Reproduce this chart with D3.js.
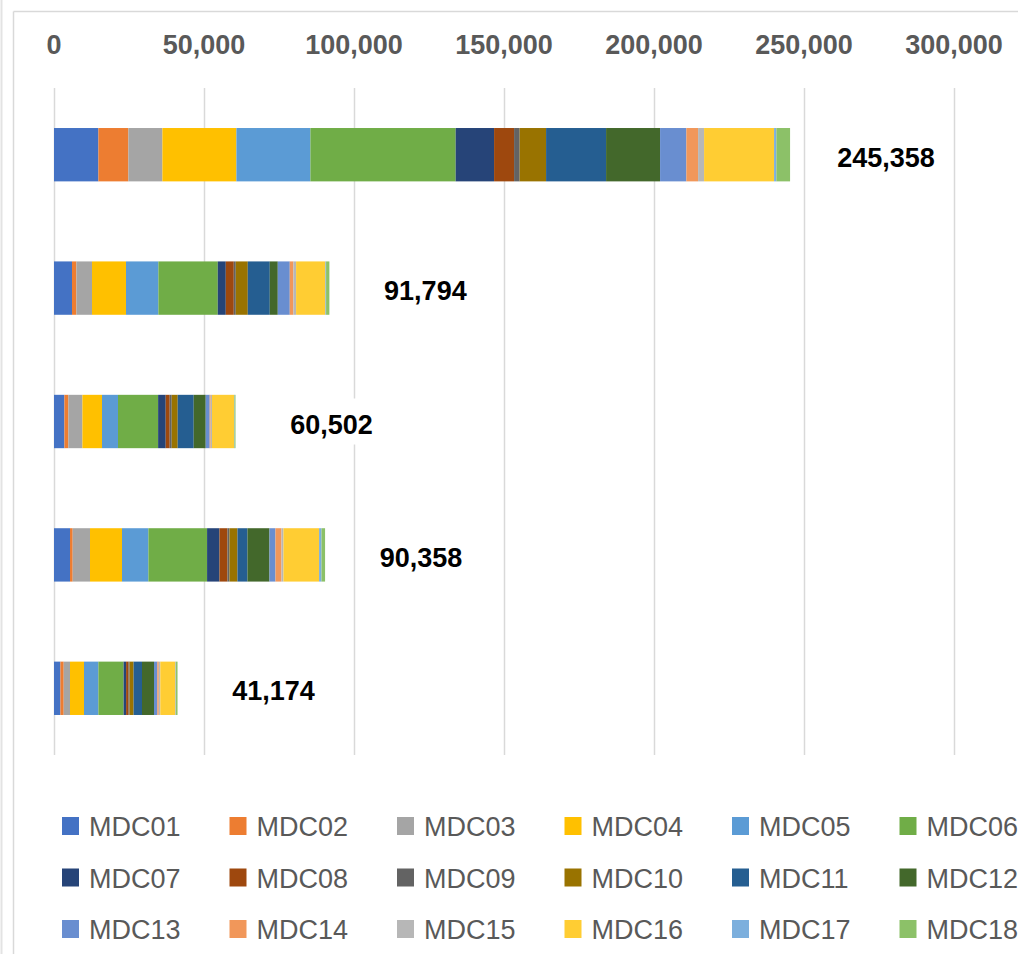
<!DOCTYPE html>
<html>
<head>
<meta charset="utf-8">
<script src="https://cdn.jsdelivr.net/npm/d3@7"></script>
<style>
  body { margin: 0; background: #fff; }
  svg { display: block; font-family: "Liberation Sans", Arial, sans-serif; }
</style>
</head>
<body>
<svg id="chart" width="1018" height="954"></svg>
<script>
// categories (not labelled on the axis in the original)
const categories = ["G1", "G2", "G3", "G4", "G5"];
const keys = ["MDC01","MDC02","MDC03","MDC04","MDC05","MDC06","MDC07","MDC08","MDC09",
              "MDC10","MDC11","MDC12","MDC13","MDC14","MDC15","MDC16","MDC17","MDC18"];
const colors = ["#4472C4","#ED7D31","#A5A5A5","#FFC000","#5B9BD5","#70AD47","#264478","#9E480E","#636363",
                "#997300","#255E91","#43682B","#698ED0","#F1975A","#B7B7B7","#FFCD33","#7CAFDD","#8CC168"];

// one array per category, values in key order
const g1 = [14800, 10000, 11333, 24667, 24667, 48423, 12800, 6667, 1867, 8800, 20000, 18000, 8767, 3900, 2000, 23333, 767, 4567];
const g2 = [6000, 1467, 5200, 11333, 10800, 19793, 2667, 2667, 667, 4000, 7333, 2667, 4000, 1200, 900, 9767, 233, 1100];
const g3 = [3467, 1333, 4667, 6533, 5333, 13371, 2533, 1333, 667, 2000, 5333, 4000, 1333, 333, 433, 7333, 167, 333];
const g4 = [5333, 900, 5767, 10667, 8800, 19557, 4133, 2667, 667, 2667, 3333, 7333, 2000, 2000, 667, 11867, 800, 1200];
const g5 = [2133, 1100, 2100, 4667, 4800, 8400, 833, 833, 333, 1333, 2800, 4000, 1100, 500, 500, 5075, 167, 500];
const totals = [245358, 91794, 60502, 90358, 41174];
const tickValues = [0, 50000, 100000, 150000, 200000, 250000, 300000];

const rows = [g1, g2, g3, g4, g5].map((vals, i) => {
  const o = { cat: categories[i], total: totals[i] };
  keys.forEach((k, j) => o[k] = vals[j]);
  return o;
});

const svg = d3.select("#chart");
const W = 1018, H = 954;

// frame lines
svg.append("line").attr("x1", 1.5).attr("x2", 1.5).attr("y1", 0).attr("y2", H)
  .attr("stroke", "#e3e3e3").attr("stroke-width", 2);
svg.append("line").attr("x1", 13.5).attr("x2", 13.5).attr("y1", 11.5).attr("y2", H)
  .attr("stroke", "#d9d9d9").attr("stroke-width", 1.5);
svg.append("line").attr("x1", 13.5).attr("x2", W).attr("y1", 11.5).attr("y2", 11.5)
  .attr("stroke", "#d9d9d9").attr("stroke-width", 1.5);

const x = d3.scaleLinear().domain([0, 300000]).range([54, 954]);
const y = d3.scaleBand().domain(categories).range([88, 755]).paddingInner(0.6).paddingOuter(0.3);

// gridlines
svg.append("g").selectAll("line").data(tickValues).join("line")
  .attr("x1", d => Math.round(x(d)) + 0.5).attr("x2", d => Math.round(x(d)) + 0.5)
  .attr("y1", 88).attr("y2", 755)
  .attr("stroke", "#d9d9d9").attr("stroke-width", 1.5);

// tick labels on top
const fmt = d3.format(",");
svg.append("g").selectAll("text").data(tickValues).join("text")
  .attr("x", d => x(d)).attr("y", 45)
  .attr("text-anchor", "middle").attr("dominant-baseline", "central")
  .attr("font-size", 27).attr("font-weight", "bold").attr("fill", "#595959")
  .text(d => fmt(d));

// stacked bars
const stacked = d3.stack().keys(keys)(rows);
const color = d3.scaleOrdinal().domain(keys).range(colors);
svg.append("g").selectAll("g").data(stacked).join("g")
  .attr("fill", d => color(d.key))
  .selectAll("rect").data(d => d).join("rect")
  .attr("x", d => x(d[0])).attr("width", d => Math.max(0, x(d[1]) - x(d[0])))
  .attr("y", d => y(d.data.cat)).attr("height", y.bandwidth());

// total labels with white box
const lab = svg.append("g").selectAll("g").data(rows).join("g")
  .attr("transform", d => `translate(${x(d.total) + 96},${y(d.cat) + y.bandwidth() / 2})`);
lab.append("rect").attr("x", -60).attr("y", -23).attr("width", 120).attr("height", 46).attr("fill", "#fff");
lab.append("text")
  .attr("text-anchor", "middle").attr("dominant-baseline", "central").attr("y", 3)
  .attr("font-size", 27).attr("font-weight", "bold").attr("fill", "#000")
  .text(d => fmt(d.total));

// legend 6 x 3
const leg = svg.append("g").selectAll("g").data(keys).join("g")
  .attr("transform", (d, i) => `translate(${62 + (i % 6) * 167.5},${826 + Math.floor(i / 6) * 51.5})`);
leg.append("rect").attr("x", 0).attr("y", -9).attr("width", 17).attr("height", 18).attr("fill", d => color(d));
leg.append("text").attr("x", 27).attr("y", 1).attr("dominant-baseline", "central")
  .attr("font-size", 27).attr("fill", "#595959").text(d => d);
</script>
</body>
</html>
